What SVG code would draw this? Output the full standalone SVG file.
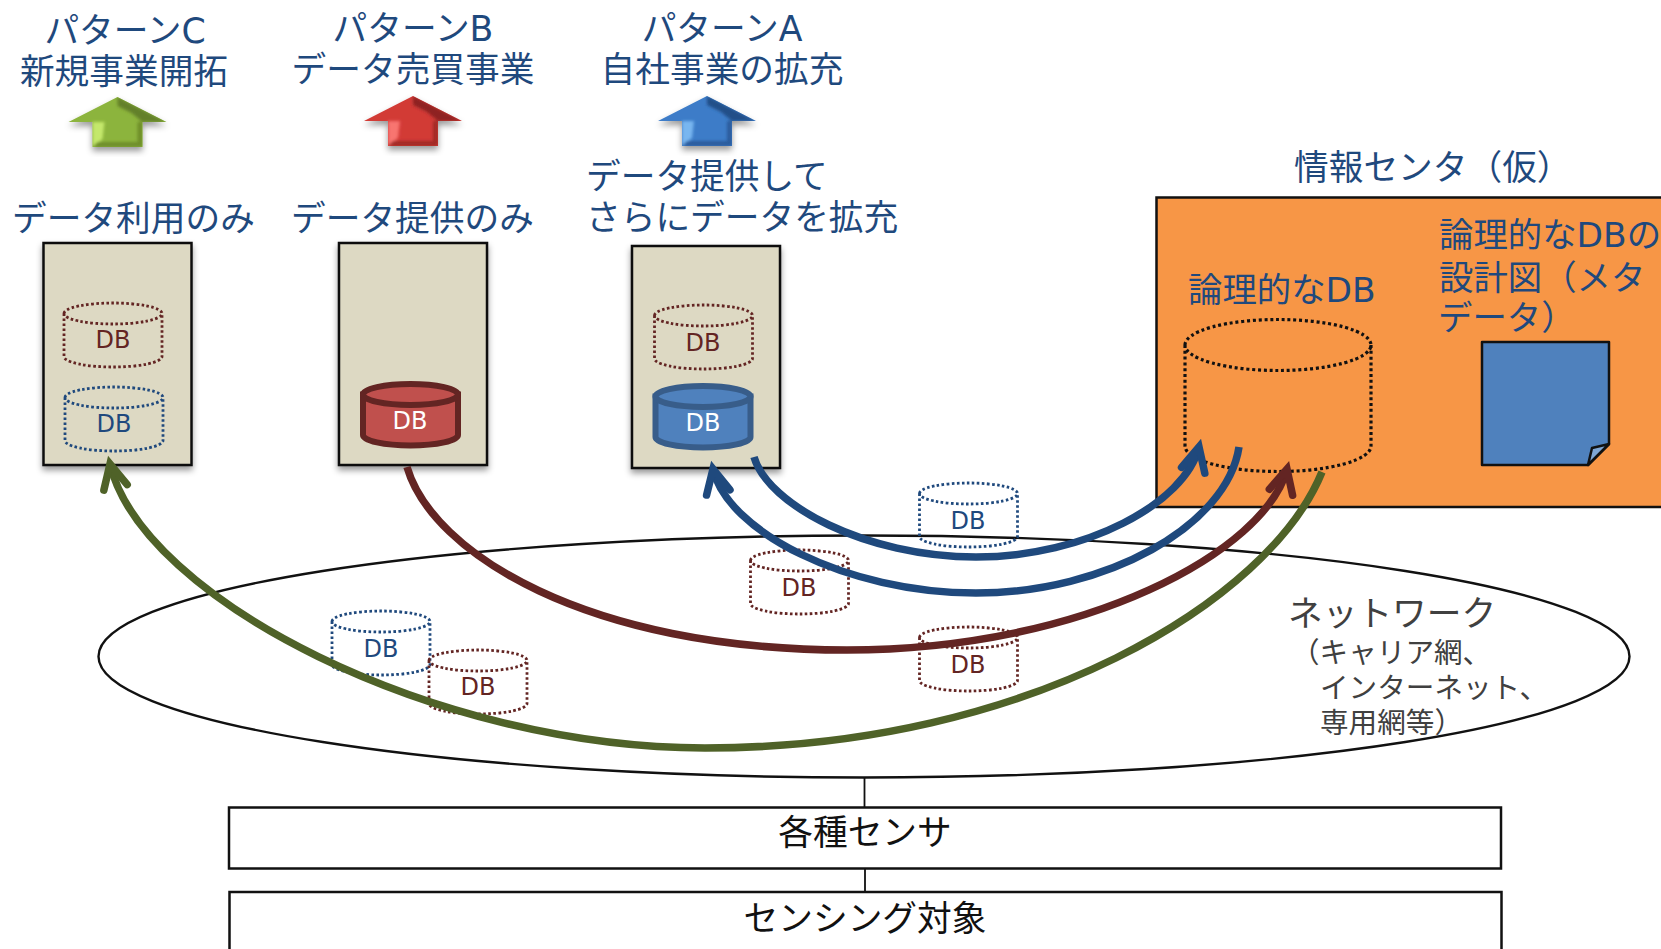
<svg xmlns="http://www.w3.org/2000/svg" width="1661" height="949" viewBox="0 0 1661 949">
<style>
text{font-family:"DejaVu Sans","Noto Sans CJK JP",sans-serif;font-size:34.7px;fill:#1F497D}
.c{text-anchor:middle}
.dk{fill:#111}
.gr{fill:#404040}
.sm{font-size:28.6px}
.tight{font-size:34.4px}
.db{font-size:24px;text-anchor:middle}
.dbb{fill:#632523}
.dbw{fill:#fff}
.box{fill:#DDD9C3;stroke:#111;stroke-width:2.5;filter:url(#sh)}
.plain{fill:#fff;stroke:#111;stroke-width:2.5}
.dot{fill:none;stroke-width:2.8;stroke-dasharray:2.6 2.4}
.brown{stroke:#632523}
.blue{stroke:#1F497D}
.sred{fill:#C0504D;stroke:#632523;stroke-width:6}
.sblue{fill:#4F81BD;stroke:#385D8A;stroke-width:6}
.conn{fill:none;stroke-width:7.5}
.head{fill:none;stroke-width:7.5;stroke-linecap:round}
</style>
<defs>
<filter id="sh" x="-20%" y="-20%" width="140%" height="140%"><feDropShadow dx="0" dy="4" stdDeviation="3" flood-color="#000" flood-opacity="0.4"/></filter>
<filter id="bl" x="-30%" y="-30%" width="160%" height="160%"><feGaussianBlur stdDeviation="1.8"/></filter>
<path id="cyl" d="M0,10.5 A49,10.5 0 0 1 98,10.5 A49,10.5 0 0 1 0,10.5 Z M0,10.5 V53.5 A49,10.5 0 0 0 98,53.5 V10.5"/>
<g id="cyls"><path d="M0,10.5 V51 A47.5,10.5 0 0 0 95,51 V10.5 Z"/><ellipse cx="47.5" cy="10.5" rx="47.5" ry="10.5"/></g>
<marker id="hBlue" markerUnits="userSpaceOnUse" markerWidth="60" markerHeight="60" refX="40" refY="30" orient="auto" overflow="visible"><path class="head" d="M16,18 L40,30 L16,42" stroke="#1F497D"/></marker>
<marker id="hBrown" markerUnits="userSpaceOnUse" markerWidth="60" markerHeight="60" refX="40" refY="30" orient="auto" overflow="visible"><path class="head" d="M16,18 L40,30 L16,42" stroke="#632523"/></marker>
<marker id="hGreen" markerUnits="userSpaceOnUse" markerWidth="60" markerHeight="60" refX="40" refY="30" orient="auto" overflow="visible"><path class="head" d="M16,18 L40,30 L16,42" stroke="#4F6228"/></marker>
<polygon id="ua" points="0,0 49,25 25,25 25,50 -25,50 -25,25 -49,25"/>
<clipPath id="uac"><polygon points="0,0 49,25 25,25 25,50 -25,50 -25,25 -49,25"/></clipPath>
<polygon id="ul" points="-25,25 -13,25 -15,42 -25,50"/>
<polygon id="ud" points="0,0 49,25 25,25 14,16 0,9"/>
<polygon id="ub" points="-25,50 25,50 25,25 20,25 20,45 -20,45"/>
</defs>
<rect width="1661" height="949" fill="#fff"/>

<g id="title-c"><text class="c" x="125" y="43">パターンC</text><text class="c" x="124" y="84">新規事業開拓</text></g>
<g id="title-b"><text class="c" x="413" y="41">パターンB</text><text class="c" x="413" y="82">データ売買事業</text></g>
<g id="title-a"><text class="c" x="722" y="41">パターンA</text><text class="c" x="722" y="82">自社事業の拡充</text></g>

<g id="arrow-c" transform="translate(117.5,97)" filter="url(#sh)"><use href="#ua" fill="#8CB43C"/><g clip-path="url(#uac)"><g filter="url(#bl)"><use href="#ul" fill="#C4E86C"/><use href="#ud" fill="#64802A"/><use href="#ub" fill="#6E8E2C"/></g></g></g>
<g id="arrow-b" transform="translate(413,96)" filter="url(#sh)"><use href="#ua" fill="#D23A36"/><g clip-path="url(#uac)"><g filter="url(#bl)"><use href="#ul" fill="#F87470"/><use href="#ud" fill="#8E2220"/><use href="#ub" fill="#A02A28"/></g></g></g>
<g id="arrow-a" transform="translate(707,96)" filter="url(#sh)"><use href="#ua" fill="#3C7CC8"/><g clip-path="url(#uac)"><g filter="url(#bl)"><use href="#ul" fill="#78B6F0"/><use href="#ud" fill="#244F88"/><use href="#ub" fill="#2A5C9C"/></g></g></g>

<text x="12" y="231" id="label-c">データ利用のみ</text>
<text x="291" y="231" id="label-b">データ提供のみ</text>
<text x="586" y="189" id="label-a1">データ提供して</text>
<text x="586" y="230" id="label-a2">さらにデータを拡充</text>
<text x="1294" y="180" id="label-center">情報センタ（仮）</text>

<g id="box-c"><rect class="box" x="43.5" y="243" width="148" height="222"/>
<use href="#cyl" class="dot brown" x="64" y="303"/><text class="db dbb" x="113" y="348">DB</text>
<use href="#cyl" class="dot blue" x="65" y="387"/><text class="db" x="114" y="432">DB</text></g>

<g id="box-b"><rect class="box" x="339" y="243" width="148" height="222"/>
<use href="#cyls" class="sred" x="363" y="384"/><text class="db dbw" x="410" y="429">DB</text></g>

<g id="box-a"><rect class="box" x="632" y="246" width="148" height="222"/>
<use href="#cyl" class="dot brown" x="654.5" y="305"/><text class="db dbb" x="703" y="351">DB</text>
<use href="#cyls" class="sblue" x="655.5" y="386"/><text class="db dbw" x="703" y="431">DB</text></g>

<g id="info-center">
<rect x="1156.5" y="197.5" width="520" height="309.5" fill="#F79646" stroke="#111" stroke-width="2.5"/>
<text class="tight" x="1188" y="302">論理的なDB</text>
<text class="tight" x="1439" y="247">論理的なDBの</text>
<text class="tight" x="1439" y="290">設計図（メタ</text>
<text class="tight" x="1438" y="330">データ）</text>
<path id="logical-db" d="M1185,345 A93,25.5 0 0 1 1371,345 A93,25.5 0 0 1 1185,345 Z M1185,345 V446 A93,25.5 0 0 0 1371,446 V345" fill="none" stroke="#111" stroke-width="3.2" stroke-dasharray="3 2.8"/>
</g>
<g id="metadata-doc">
<path d="M1482,342 H1609 V444 L1588,465 H1482 Z" fill="#4F81BD" stroke="#111" stroke-width="2.5" stroke-linejoin="round"/>
<path d="M1609,444 L1592,448 L1588,465 Z" fill="#7FA6D4" stroke="#111" stroke-width="2.5" stroke-linejoin="round"/>
</g>

<g id="network"><ellipse cx="864" cy="656.5" rx="765.5" ry="121" fill="#fff" fill-opacity="0.01" stroke="#111" stroke-width="2.4"/>
<text class="gr" x="1288" y="626">ネットワーク</text>
<text class="gr sm" x="1291" y="663">（キャリア網、</text>
<text class="gr sm" x="1320" y="698">インターネット、</text>
<text class="gr sm" x="1320" y="733">専用網等）</text></g>

<g id="db-net1"><use href="#cyl" class="dot blue" x="332" y="611"/><text class="db" x="381" y="657">DB</text></g>
<g id="db-net2"><use href="#cyl" class="dot brown" x="429" y="650"/><text class="db dbb" x="478" y="695">DB</text></g>
<g id="db-net3"><use href="#cyl" class="dot brown" x="750.5" y="550"/><text class="db dbb" x="799" y="596">DB</text></g>
<g id="db-net4"><use href="#cyl" class="dot blue" x="919.5" y="483"/><text class="db" x="968" y="529">DB</text></g>
<g id="db-net5"><use href="#cyl" class="dot brown" x="919.5" y="627"/><text class="db dbb" x="968" y="673">DB</text></g>

<g id="sensors"><rect class="plain" x="229" y="807.5" width="1272" height="61"/><text class="c dk" x="865" y="845">各種センサ</text></g>
<g id="target"><rect class="plain" x="229.5" y="892" width="1272" height="70"/><text class="c dk" x="865" y="931">センシング対象</text></g>

<g id="connectors">
<path d="M864.5,777 V807 M865,868 V892" fill="none" stroke="#111" stroke-width="1.8"/>
<path class="conn" stroke="#4F6228" marker-end="url(#hGreen)" d="M1322,472 C1270,600 1030,748 705,748 C435,748 142,599 110,464"/>
<path class="conn" stroke="#632523" marker-end="url(#hBrown)" d="M407,467 C432,553 587,650 847,650 C1087,650 1266,550 1287,469"/>
<path class="conn" stroke="#1F497D" marker-end="url(#hBlue)" d="M754,457 C768,505 866,557 976,557 C1086,557 1185,503 1199,447"/>
<path class="conn" stroke="#1F497D" marker-end="url(#hBlue)" d="M1239,447 C1227,526 1106,593 976,593 C846,593 727,531 713,469"/>
</g>
</svg>
